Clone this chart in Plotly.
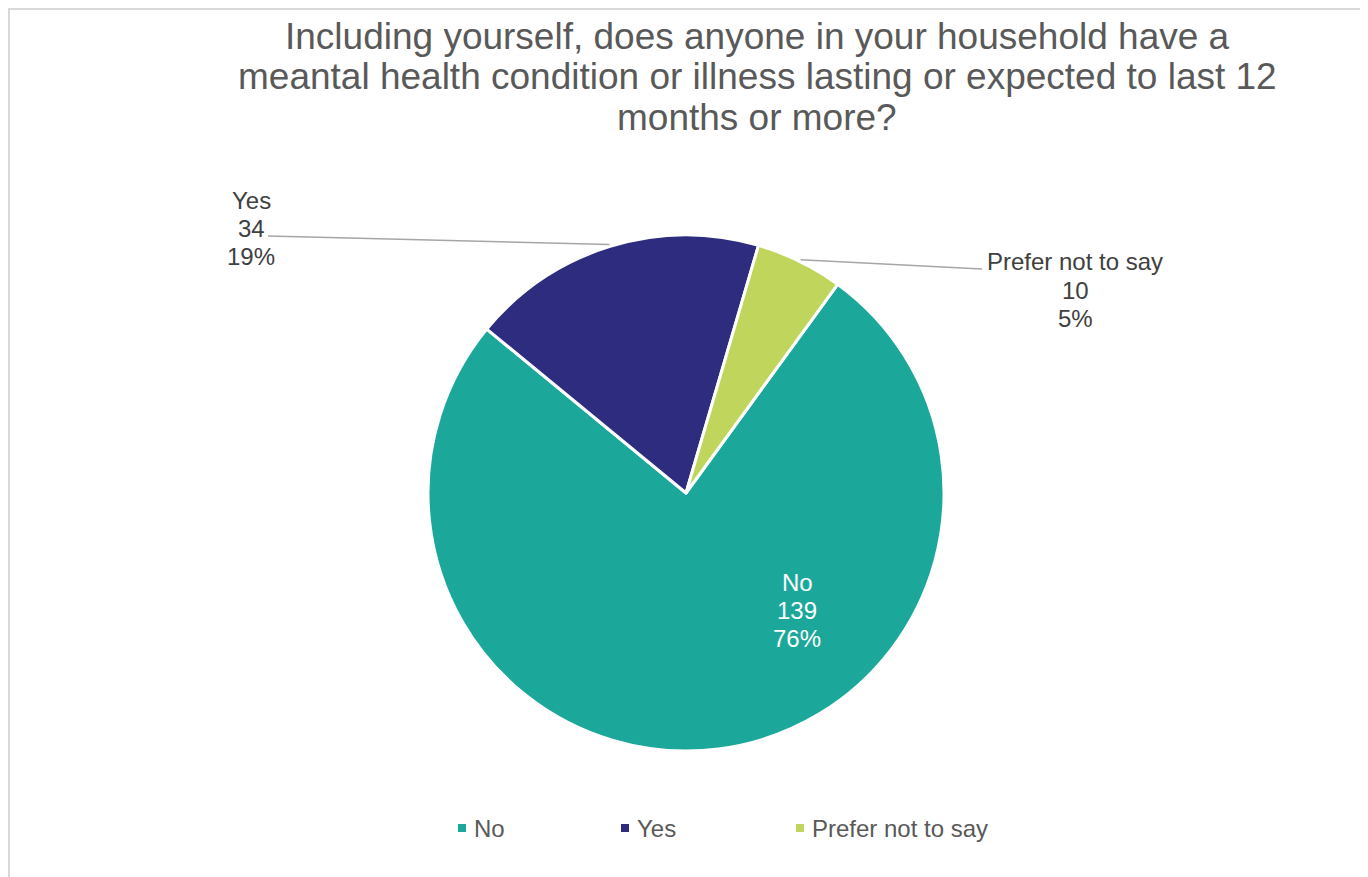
import math
import plotly.graph_objects as go

# ---- data ----
categories = ["No", "Yes", "Prefer not to say"]
counts = [139, 34, 10]
colors = ["#1BA89A", "#2E2C7E", "#BFD55B"]
title_lines = [
    "Including yourself, does anyone in your household have a",
    "meantal health condition or illness lasting or expected to last 12",
    "months or more?",
]

# ---- layout constants (pixels, in screenshot coordinates) ----
OFF = 8  # page body margin
W, H = 1368 - OFF, 877 - OFF
CX, CY, R = 686, 493, 258
ROTATION = 36
FONT = "Liberation Sans, Arial, sans-serif"

def px(x):
    return (x - OFF) / W

def py(y):
    return 1 - (y - OFF) / H

total = sum(counts)
pcts = [round(100 * c / total) for c in counts]

fig = go.Figure()
fig.add_trace(go.Pie(
    labels=categories,
    values=counts,
    sort=False,
    direction="clockwise",
    rotation=ROTATION,
    marker=dict(colors=colors, line=dict(color="white", width=3)),
    textinfo="none",
    hoverinfo="label+value+percent",
    showlegend=False,
    domain=dict(x=[px(CX - R), px(CX + R)], y=[py(CY + R), py(CY - R)]),
))

annotations = []
shapes = []

# title, one annotation per line (tight Excel-like spacing)
for i, line in enumerate(title_lines):
    annotations.append(dict(
        text=line, x=px(757), y=py(36 + 40.5 * i), xref="paper", yref="paper",
        xanchor="center", yanchor="middle", showarrow=False,
        font=dict(family=FONT, size=37, color="#595959"),
    ))

# data label positions (label centre x, first line y), text colour
label_pos = [(797, 582, "white"), (251, 200, "#404040"), (1075, 262, "#404040")]
for (lx, ly, col), cat, cnt, pc in zip(label_pos, categories, counts, pcts):
    for j, t in enumerate([cat, str(cnt), f"{pc}%"]):
        annotations.append(dict(
            text=t, x=px(lx), y=py(ly + 28 * j), xref="paper", yref="paper",
            xanchor="center", yanchor="middle", showarrow=False,
            font=dict(family=FONT, size=24, color=col),
        ))

# leader lines from slice mid-angle on the rim to the labels
cum = 0
mids = []
for c in counts:
    mids.append(ROTATION + 360 * (cum + c / 2) / total)
    cum += c
leader_ends = {1: (268, 236), 2: (982, 269)}
for idx, (ex, ey) in leader_ends.items():
    a = math.radians(mids[idx])
    sx = CX + (R + 2) * math.sin(a)
    sy = CY - (R + 2) * math.cos(a)
    shapes.append(dict(
        type="line", xref="paper", yref="paper",
        x0=px(sx), y0=py(sy), x1=px(ex), y1=py(ey),
        line=dict(color="#A6A6A6", width=1.5),
    ))

# manual legend
legend_x = [462, 625, 800]
LEG_Y = 828
for lx, cat, col in zip(legend_x, categories, colors):
    shapes.append(dict(
        type="rect", xref="paper", yref="paper",
        x0=px(lx - 4), x1=px(lx + 4), y0=py(LEG_Y + 4), y1=py(LEG_Y - 4),
        fillcolor=col, line=dict(width=0),
    ))
    annotations.append(dict(
        text=cat, x=px(lx + 10), y=py(LEG_Y), xref="paper", yref="paper",
        xanchor="left", yanchor="middle", showarrow=False,
        font=dict(family=FONT, size=24, color="#595959"),
    ))

# chart border
shapes.append(dict(
    type="rect", xref="paper", yref="paper",
    x0=px(9), x1=px(1365), y0=-0.05, y1=py(9),
    line=dict(color="#D9D9D9", width=2), fillcolor="rgba(0,0,0,0)",
))

fig.update_layout(
    width=W, height=H,
    margin=dict(l=0, r=0, t=0, b=0),
    paper_bgcolor="white",
    plot_bgcolor="white",
    annotations=annotations,
    shapes=shapes,
    showlegend=False,
)

fig.write_html("out.html")
